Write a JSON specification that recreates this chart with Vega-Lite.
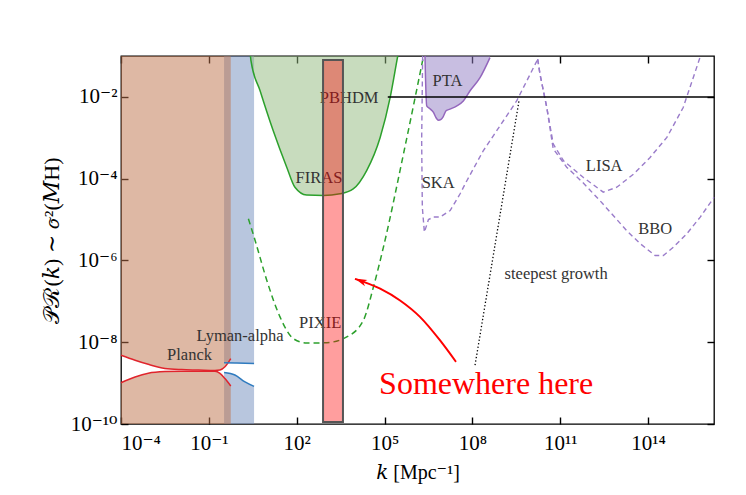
{
  "$schema": "https://vega.github.io/schema/vega-lite/v6.json",
  "width": 593,
  "height": 368,
  "autosize": {"type": "none"},
  "padding": {"left": 121, "top": 56, "right": 32, "bottom": 71},
  "background": "white",
  "config": {
    "view": {"stroke": "black", "strokeWidth": 1.3},
    "axis": {
      "labelFont": "Liberation Serif, DejaVu Serif",
      "labelFontSize": 21,
      "labelColor": "black",
      "domain": false,
      "zindex": 1,
      "grid": false,
      "titleFont": "Liberation Serif, DejaVu Serif",
      "titleFontSize": 20,
      "titleFontWeight": "normal",
      "titleColor": "black"
    },
    "text": {"font": "Liberation Serif"}
  },
  "datasets": {
    "planck": [
      {"k": 0.0001, "up": 4.79e-9, "lo": 1.02e-9},
      {"k": 0.000302, "up": 3.63e-9, "lo": 1.41e-9},
      {"k": 0.000851, "up": 2.88e-9, "lo": 1.74e-9},
      {"k": 0.00316, "up": 2.29e-9, "lo": 1.91e-9},
      {"k": 0.0117, "up": 2.14e-9, "lo": 1.95e-9},
      {"k": 0.0437, "up": 2.09e-9, "lo": 1.95e-9},
      {"k": 0.162, "up": 2.04e-9, "lo": 1.95e-9},
      {"k": 0.24, "up": 2.09e-9, "lo": 1.74e-9},
      {"k": 0.355, "up": 2.51e-9, "lo": 1.29e-9},
      {"k": 0.56, "up": 3.98e-9, "lo": 8.51e-10}
    ],
    "lyman": [
      {"k": 0.331, "up": 3.16e-9, "lo": 1.82e-9},
      {"k": 0.776, "up": 3.1e-9, "lo": 1.58e-9},
      {"k": 1.72, "up": 3.05e-9, "lo": 1.07e-9},
      {"k": 3.5, "up": 3.02e-9, "lo": 8.3e-10}
    ],
    "firas": [
      {"k": 2.63, "P": 0.1},
      {"k": 2.75, "P": 0.0759},
      {"k": 5.62, "P": 0.0141},
      {"k": 15.8, "P": 0.00148},
      {"k": 45.7, "P": 0.000191},
      {"k": 87.1, "P": 6.17e-5},
      {"k": 219, "P": 3.98e-5},
      {"k": 813, "P": 3.89e-5},
      {"k": 3020, "P": 4.27e-5},
      {"k": 8510, "P": 5.62e-5},
      {"k": 24500, "P": 0.000158},
      {"k": 70800, "P": 0.00102},
      {"k": 155000, "P": 0.00955},
      {"k": 263000, "P": 0.0759},
      {"k": 282000, "P": 0.1}
    ],
    "pixie": [
      {"k": 2.24, "P": 1.05e-5},
      {"k": 3.8, "P": 3.09e-6},
      {"k": 9.55, "P": 3.24e-7},
      {"k": 26.9, "P": 4.17e-8},
      {"k": 75.9, "P": 1.23e-8},
      {"k": 219, "P": 9.55e-9},
      {"k": 1070, "P": 9.77e-9},
      {"k": 5130, "P": 1.35e-8},
      {"k": 19100, "P": 3.47e-8},
      {"k": 41700, "P": 2.24e-7},
      {"k": 91200, "P": 2.09e-6},
      {"k": 479000, "P": 0.000525},
      {"k": 2090000, "P": 0.0912}
    ],
    "pta": [
      {"k": 2400000, "P": 0.1},
      {"k": 2750000, "P": 0.00603},
      {"k": 3550000, "P": 0.00513},
      {"k": 4680000, "P": 0.00417},
      {"k": 5750000, "P": 0.00309},
      {"k": 6920000, "P": 0.00269},
      {"k": 8510000, "P": 0.00282},
      {"k": 10000000, "P": 0.00324},
      {"k": 12600000, "P": 0.00457},
      {"k": 17000000, "P": 0.00501},
      {"k": 29500000, "P": 0.00603},
      {"k": 49000000, "P": 0.00794},
      {"k": 83200000, "P": 0.0141},
      {"k": 182000000, "P": 0.0295},
      {"k": 398000000, "P": 0.0912}
    ],
    "ska": [
      {"i": 0, "k": 2000000, "P": 0.1},
      {"i": 1, "k": 1850000, "P": 0.000851},
      {"i": 2, "k": 1950000, "P": 2.0e-5},
      {"i": 3, "k": 2290000, "P": 4.9e-6},
      {"i": 4, "k": 3160000, "P": 1.0e-5},
      {"i": 5, "k": 4680000, "P": 1.15e-5},
      {"i": 6, "k": 7760000, "P": 1.15e-5},
      {"i": 7, "k": 17400000, "P": 1.66e-5},
      {"i": 8, "k": 38000000, "P": 4.27e-5},
      {"i": 9, "k": 64600000, "P": 8.91e-5},
      {"i": 10, "k": 234000000, "P": 0.000479},
      {"i": 11, "k": 871000000, "P": 0.00195},
      {"i": 12, "k": 3240000000, "P": 0.00794},
      {"i": 13, "k": 17000000000, "P": 0.0832}
    ],
    "lisa": [
      {"k": 17000000000, "P": 0.0832},
      {"k": 20400000000, "P": 0.0355},
      {"k": 34700000000, "P": 0.0055},
      {"k": 57500000000, "P": 0.000708},
      {"k": 129000000000, "P": 0.000275},
      {"k": 617000000000, "P": 0.000107},
      {"k": 2950000000000, "P": 4.68e-5},
      {"k": 8510000000000, "P": 6.17e-5},
      {"k": 31600000000000, "P": 0.000129},
      {"k": 117000000000000, "P": 0.000331},
      {"k": 437000000000000, "P": 0.00102},
      {"k": 1580000000000000, "P": 0.0055},
      {"k": 5890000000000000, "P": 0.0912}
    ],
    "bbo": [
      {"k": 17000000000, "P": 0.0832},
      {"k": 20400000000, "P": 0.0355},
      {"k": 34700000000, "P": 0.0055},
      {"k": 57500000000, "P": 0.000537},
      {"k": 166000000000, "P": 0.000191},
      {"k": 603000000000, "P": 7.94e-5},
      {"k": 2290000000000, "P": 2.88e-5},
      {"k": 18600000000000, "P": 5.37e-6},
      {"k": 53700000000000, "P": 2.57e-6},
      {"k": 174000000000000, "P": 1.32e-6},
      {"k": 331000000000000, "P": 1.32e-6},
      {"k": 724000000000000, "P": 2.09e-6},
      {"k": 2090000000000000, "P": 4.47e-6},
      {"k": 6030000000000000, "P": 1.15e-5},
      {"k": 17800000000000000, "P": 3.47e-5}
    ],
    "pbhdm": [
      {"k": 129000, "P": 0.01},
      {"k": 17800000000000000, "P": 0.01}
    ],
    "steep": [
      {"k": 123000000, "P": 2.75e-9},
      {"k": 3980000000, "P": 0.00871}
    ],
    "box": [
      {"k1": 794, "k2": 3800, "P1": 1.12e-10, "P2": 0.0794}
    ],
    "arrow": [
      {"k": 9770, "P": 3.55e-7},
      {"k": 70800, "P": 2.04e-7},
      {"k": 339000, "P": 1.05e-7},
      {"k": 1620000, "P": 4.17e-8},
      {"k": 7760000, "P": 1.12e-8},
      {"k": 27500000, "P": 3.31e-9}
    ],
    "arrowhead": [
      {"k": 15100, "P": 3.16e-7}
    ],
    "labels": [
      {"label": "FIRAS", "k": 575, "P": 0.000105},
      {"label": "PBHDM", "k": 6170, "P": 0.00955},
      {"label": "PTA", "k": 14100000, "P": 0.0245},
      {"label": "SKA", "k": 6760000, "P": 7.94e-5},
      {"label": "LISA", "k": 3160000000000, "P": 0.0002},
      {"label": "BBO", "k": 174000000000000, "P": 5.89e-6},
      {"label": "PIXIE", "k": 631, "P": 3.02e-8},
      {"label": "Lyman-alpha", "k": 1.16, "P": 1.41e-8},
      {"label": "Planck", "k": 0.0219, "P": 4.79e-9},
      {"label": "steepest growth", "k": 72400000000, "P": 4.79e-7}
    ],
    "note": [
      {"label": "Somewhere here", "k": 295000000, "P": 9.55e-10}
    ],
    "frame": [
      {"k": 1, "P": 1e-5}
    ]
  },
  "layer": [
    {
      "layer": [
        {
          "data": {"name": "lyman"},
          "mark": {"type": "area", "color": "#718dbd", "opacity": 0.5, "interpolate": "monotone"},
          "encoding": {
            "x": {"field": "k", "type": "quantitative", "scale": {"type": "log", "domain": [0.0001, 17800000000000000], "nice": false},
              "axis": {"values": [0.0001, 0.1, 100, 100000, 100000000, 100000000000, 100000000000000], "tickColor": "black", "tickSize": -7, "tickWidth": 1.4, "labelPadding": 15, "title": "𝑘 [Mpc⁻¹]", "titleY": 38,
                "labelExpr": "'10' + (round(log(datum.value)/LN10) == -4 ? '⁻⁴' : round(log(datum.value)/LN10) == -1 ? '⁻¹' : round(log(datum.value)/LN10) == 2 ? '²' : round(log(datum.value)/LN10) == 5 ? '⁵' : round(log(datum.value)/LN10) == 8 ? '⁸' : round(log(datum.value)/LN10) == 11 ? '¹¹' : '¹⁴')"}},
            "y": {"field": "up", "type": "quantitative", "scale": {"type": "log", "domain": [1e-10, 0.1], "nice": false},
              "axis": {"values": [1e-10, 1e-8, 1e-6, 0.0001, 0.01], "tickColor": "black", "tickSize": -7, "tickWidth": 1.4, "labelPadding": 11, "title": "𝒫ℛ(𝑘) ∼ 𝜎²(𝑀H)", "titleFontSize": 22, "titleX": -70, "titleY": 184, "titleAngle": -90, "titleBaseline": "middle",
                "labelExpr": "'10' + (round(log(datum.value)/LN10) == -10 ? '⁻¹⁰' : round(log(datum.value)/LN10) == -8 ? '⁻⁸' : round(log(datum.value)/LN10) == -6 ? '⁻⁶' : round(log(datum.value)/LN10) == -4 ? '⁻⁴' : '⁻²')"}},
            "y2": {"datum": 0.1}
          }
        },
        {
          "data": {"name": "lyman"},
          "mark": {"type": "area", "color": "#718dbd", "opacity": 0.5, "interpolate": "monotone"},
          "encoding": {
            "x": {"field": "k", "type": "quantitative", "scale": {"type": "log", "domain": [0.0001, 17800000000000000], "nice": false}},
            "y": {"field": "lo", "type": "quantitative", "scale": {"type": "log", "domain": [1e-10, 0.1], "nice": false}},
            "y2": {"datum": 1e-10}
          }
        },
        {
          "data": {"name": "planck"},
          "mark": {"type": "area", "color": "#bd7149", "opacity": 0.5, "interpolate": "monotone"},
          "encoding": {
            "x": {"field": "k", "type": "quantitative", "scale": {"type": "log", "domain": [0.0001, 17800000000000000], "nice": false}},
            "y": {"field": "up", "type": "quantitative", "scale": {"type": "log", "domain": [1e-10, 0.1], "nice": false}},
            "y2": {"datum": 0.1}
          }
        },
        {
          "data": {"name": "planck"},
          "mark": {"type": "area", "color": "#bd7149", "opacity": 0.5, "interpolate": "monotone"},
          "encoding": {
            "x": {"field": "k", "type": "quantitative", "scale": {"type": "log", "domain": [0.0001, 17800000000000000], "nice": false}},
            "y": {"field": "lo", "type": "quantitative", "scale": {"type": "log", "domain": [1e-10, 0.1], "nice": false}},
            "y2": {"datum": 1e-10}
          }
        },
        {
          "data": {"name": "firas"},
          "mark": {"type": "area", "color": "#91b97d", "opacity": 0.5, "interpolate": "monotone"},
          "encoding": {
            "x": {"field": "k", "type": "quantitative", "scale": {"type": "log", "domain": [0.0001, 17800000000000000], "nice": false}},
            "y": {"field": "P", "type": "quantitative", "scale": {"type": "log", "domain": [1e-10, 0.1], "nice": false}},
            "y2": {"datum": 0.1}
          }
        },
        {
          "data": {"name": "pta"},
          "mark": {"type": "area", "color": "#917dc3", "opacity": 0.5, "interpolate": "monotone"},
          "encoding": {
            "x": {"field": "k", "type": "quantitative", "scale": {"type": "log", "domain": [0.0001, 17800000000000000], "nice": false}},
            "y": {"field": "P", "type": "quantitative", "scale": {"type": "log", "domain": [1e-10, 0.1], "nice": false}},
            "y2": {"datum": 0.1}
          }
        },
        {
          "data": {"name": "planck"},
          "mark": {"type": "line", "color": "#e0242c", "strokeWidth": 1.5, "interpolate": "monotone"},
          "encoding": {
            "x": {"field": "k", "type": "quantitative", "scale": {"type": "log", "domain": [0.0001, 17800000000000000], "nice": false}},
            "y": {"field": "up", "type": "quantitative", "scale": {"type": "log", "domain": [1e-10, 0.1], "nice": false}}
          }
        },
        {
          "data": {"name": "planck"},
          "mark": {"type": "line", "color": "#e0242c", "strokeWidth": 1.5, "interpolate": "monotone"},
          "encoding": {
            "x": {"field": "k", "type": "quantitative", "scale": {"type": "log", "domain": [0.0001, 17800000000000000], "nice": false}},
            "y": {"field": "lo", "type": "quantitative", "scale": {"type": "log", "domain": [1e-10, 0.1], "nice": false}}
          }
        },
        {
          "data": {"name": "lyman"},
          "mark": {"type": "line", "color": "#2f7bbf", "strokeWidth": 1.5, "interpolate": "monotone"},
          "encoding": {
            "x": {"field": "k", "type": "quantitative", "scale": {"type": "log", "domain": [0.0001, 17800000000000000], "nice": false}},
            "y": {"field": "up", "type": "quantitative", "scale": {"type": "log", "domain": [1e-10, 0.1], "nice": false}}
          }
        },
        {
          "data": {"name": "lyman"},
          "mark": {"type": "line", "color": "#2f7bbf", "strokeWidth": 1.5, "interpolate": "monotone"},
          "encoding": {
            "x": {"field": "k", "type": "quantitative", "scale": {"type": "log", "domain": [0.0001, 17800000000000000], "nice": false}},
            "y": {"field": "lo", "type": "quantitative", "scale": {"type": "log", "domain": [1e-10, 0.1], "nice": false}}
          }
        },
        {
          "data": {"name": "firas"},
          "mark": {"type": "line", "color": "#2ca02c", "strokeWidth": 1.5, "interpolate": "monotone"},
          "encoding": {
            "x": {"field": "k", "type": "quantitative", "scale": {"type": "log", "domain": [0.0001, 17800000000000000], "nice": false}},
            "y": {"field": "P", "type": "quantitative", "scale": {"type": "log", "domain": [1e-10, 0.1], "nice": false}}
          }
        },
        {
          "data": {"name": "pta"},
          "mark": {"type": "line", "color": "#9467bd", "strokeWidth": 1.5, "interpolate": "monotone"},
          "encoding": {
            "x": {"field": "k", "type": "quantitative", "scale": {"type": "log", "domain": [0.0001, 17800000000000000], "nice": false}},
            "y": {"field": "P", "type": "quantitative", "scale": {"type": "log", "domain": [1e-10, 0.1], "nice": false}}
          }
        },
        {
          "data": {"name": "pixie"},
          "mark": {"type": "line", "color": "#2ca02c", "strokeWidth": 1.5, "strokeDash": [6, 4], "interpolate": "monotone"},
          "encoding": {
            "x": {"field": "k", "type": "quantitative", "scale": {"type": "log", "domain": [0.0001, 17800000000000000], "nice": false}},
            "y": {"field": "P", "type": "quantitative", "scale": {"type": "log", "domain": [1e-10, 0.1], "nice": false}}
          }
        },
        {
          "data": {"name": "ska"},
          "mark": {"type": "line", "color": "#9a7cca", "strokeWidth": 1.4, "strokeDash": [5, 3.5]},
          "encoding": {
            "x": {"field": "k", "type": "quantitative", "scale": {"type": "log", "domain": [0.0001, 17800000000000000], "nice": false}},
            "y": {"field": "P", "type": "quantitative", "scale": {"type": "log", "domain": [1e-10, 0.1], "nice": false}},
            "order": {"field": "i", "type": "quantitative"}
          }
        },
        {
          "data": {"name": "lisa"},
          "mark": {"type": "line", "color": "#9a7cca", "strokeWidth": 1.4, "strokeDash": [5, 3.5]},
          "encoding": {
            "x": {"field": "k", "type": "quantitative", "scale": {"type": "log", "domain": [0.0001, 17800000000000000], "nice": false}},
            "y": {"field": "P", "type": "quantitative", "scale": {"type": "log", "domain": [1e-10, 0.1], "nice": false}}
          }
        },
        {
          "data": {"name": "bbo"},
          "mark": {"type": "line", "color": "#9a7cca", "strokeWidth": 1.4, "strokeDash": [5, 3.5]},
          "encoding": {
            "x": {"field": "k", "type": "quantitative", "scale": {"type": "log", "domain": [0.0001, 17800000000000000], "nice": false}},
            "y": {"field": "P", "type": "quantitative", "scale": {"type": "log", "domain": [1e-10, 0.1], "nice": false}}
          }
        },
        {
          "data": {"name": "pbhdm"},
          "mark": {"type": "line", "color": "black", "strokeWidth": 1.5},
          "encoding": {
            "x": {"field": "k", "type": "quantitative", "scale": {"type": "log", "domain": [0.0001, 17800000000000000], "nice": false}},
            "y": {"field": "P", "type": "quantitative", "scale": {"type": "log", "domain": [1e-10, 0.1], "nice": false}}
          }
        },
        {
          "data": {"name": "steep"},
          "mark": {"type": "line", "color": "black", "strokeWidth": 1.3, "strokeDash": [1.3, 2.2]},
          "encoding": {
            "x": {"field": "k", "type": "quantitative", "scale": {"type": "log", "domain": [0.0001, 17800000000000000], "nice": false}},
            "y": {"field": "P", "type": "quantitative", "scale": {"type": "log", "domain": [1e-10, 0.1], "nice": false}}
          }
        },
        {
          "data": {"name": "labels"},
          "mark": {"type": "text", "font": "Liberation Serif", "fontSize": 16.5, "color": "#333333", "align": "center", "baseline": "middle"},
          "encoding": {
            "x": {"field": "k", "type": "quantitative", "scale": {"type": "log", "domain": [0.0001, 17800000000000000], "nice": false}},
            "y": {"field": "P", "type": "quantitative", "scale": {"type": "log", "domain": [1e-10, 0.1], "nice": false}},
            "text": {"field": "label"}
          }
        },
        {
          "data": {"name": "box"},
          "mark": {"type": "rect", "fill": "#ff0000", "fillOpacity": 0.38, "stroke": "#555555", "strokeWidth": 2},
          "encoding": {
            "x": {"field": "k1", "type": "quantitative", "scale": {"type": "log", "domain": [0.0001, 17800000000000000], "nice": false}},
            "x2": {"field": "k2"},
            "y": {"field": "P1", "type": "quantitative", "scale": {"type": "log", "domain": [1e-10, 0.1], "nice": false}},
            "y2": {"field": "P2"}
          }
        },
        {
          "data": {"name": "arrow"},
          "mark": {"type": "line", "color": "#ff0000", "strokeWidth": 2, "interpolate": "monotone"},
          "encoding": {
            "x": {"field": "k", "type": "quantitative", "scale": {"type": "log", "domain": [0.0001, 17800000000000000], "nice": false}},
            "y": {"field": "P", "type": "quantitative", "scale": {"type": "log", "domain": [1e-10, 0.1], "nice": false}}
          }
        },
        {
          "data": {"name": "arrowhead"},
          "mark": {"type": "point", "shape": "M-1,0L1,-0.55L0.5,0L1,0.55Z", "filled": true, "color": "#ff0000", "opacity": 1, "size": 150, "angle": 22},
          "encoding": {
            "x": {"field": "k", "type": "quantitative", "scale": {"type": "log", "domain": [0.0001, 17800000000000000], "nice": false}},
            "y": {"field": "P", "type": "quantitative", "scale": {"type": "log", "domain": [1e-10, 0.1], "nice": false}}
          }
        },
        {
          "data": {"name": "note"},
          "mark": {"type": "text", "font": "Liberation Serif", "fontSize": 32, "color": "#ff0000", "align": "center", "baseline": "middle"},
          "encoding": {
            "x": {"field": "k", "type": "quantitative", "scale": {"type": "log", "domain": [0.0001, 17800000000000000], "nice": false}},
            "y": {"field": "P", "type": "quantitative", "scale": {"type": "log", "domain": [1e-10, 0.1], "nice": false}},
            "text": {"field": "label"}
          }
        }
      ]
    },
    {
      "data": {"name": "frame"},
      "mark": {"type": "point", "opacity": 0},
      "encoding": {
        "x": {"field": "k", "type": "quantitative", "scale": {"type": "log", "domain": [0.0001, 17800000000000000], "nice": false},
          "axis": {"orient": "top", "values": [0.0001, 0.1, 100, 100000, 100000000, 100000000000, 100000000000000], "labels": false, "title": null, "tickColor": "black", "tickSize": -7, "tickWidth": 1.4}},
        "y": {"field": "P", "type": "quantitative", "scale": {"type": "log", "domain": [1e-10, 0.1], "nice": false},
          "axis": {"orient": "right", "values": [1e-10, 1e-8, 1e-6, 0.0001, 0.01], "labels": false, "title": null, "tickColor": "black", "tickSize": -7, "tickWidth": 1.4}}
      }
    }
  ],
  "resolve": {"axis": {"x": "independent", "y": "independent"}}
}
